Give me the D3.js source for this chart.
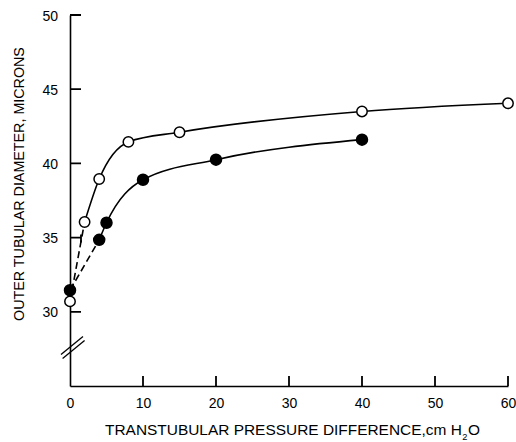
<!DOCTYPE html>
<html>
<head>
<meta charset="utf-8">
<script src="https://cdn.jsdelivr.net/npm/d3@7"></script>
<style>
  body { margin: 0; background: #fff; }
  svg { font-family: "Liberation Sans", Arial, sans-serif; }
  .tick text { font-size: 14px; fill: #000; }
</style>
</head>
<body>
<svg id="main-svg" width="516" height="442"></svg>
<script>
// data
var openX = [0, 2, 4, 8, 15, 40, 60];
var openY = [30.7, 36.05, 38.95, 41.45, 42.1, 43.5, 44.05];
var filledX = [0, 4, 5, 10, 20, 40];
var filledY = [31.45, 34.85, 36.0, 38.9, 40.25, 41.6];
var xTicks = [0, 10, 20, 30, 40, 50, 60];
var yTicks = [30, 35, 40, 45, 50];
// first segment of each curve is dashed
var dashedUpTo = 1;

var svg = d3.select('#main-svg');
var x = d3.scaleLinear().domain([0, 60]).range([70, 508]);
var y = d3.scaleLinear().domain([25, 50]).range([386, 15]);

// axes: labels from d3 axis, inward ticks drawn as one path
svg.append('g')
  .attr('transform', 'translate(0,' + y(25) + ')')
  .call(d3.axisBottom(x).tickValues(xTicks).tickSize(0).tickPadding(12))
  .call(g => g.select('.domain').attr('stroke', '#000').attr('stroke-width', 1.6))
  .call(g => g.selectAll('text').attr('font-family', null));

svg.append('g')
  .attr('transform', 'translate(' + x(0) + ',0)')
  .call(d3.axisLeft(y).tickValues(yTicks).tickSize(0).tickPadding(12))
  .call(g => g.select('.domain').attr('stroke', '#000').attr('stroke-width', 1.6))
  .call(g => g.selectAll('text').attr('font-family', null).attr('dy', '0.36em'));

var tickPath = d3.path();
xTicks.filter(d => d > 0).forEach(function(d) {
  tickPath.moveTo(x(d), y(25));
  tickPath.lineTo(x(d), y(25) - 10);
});
yTicks.forEach(function(d) {
  tickPath.moveTo(x(0), y(d));
  tickPath.lineTo(x(0) + 11, y(d));
});
// little bar at the end of the 35 tick
tickPath.moveTo(x(0) + 11, y(35) - 3);
tickPath.lineTo(x(0) + 11, y(35) + 5);
svg.append('path')
  .attr('d', tickPath.toString())
  .attr('fill', 'none').attr('stroke', '#000').attr('stroke-width', 1.8);

// axis break marks
[0, 4].forEach(function(o) {
  svg.append('line')
    .attr('x1', x(0) - 9 + o * 0.4).attr('y1', y(27.6) + 7 + o)
    .attr('x2', x(0) + 13 + o * 0.4).attr('y2', y(27.6) - 11 + o)
    .attr('stroke', '#000').attr('stroke-width', 1.3);
});

// curves
function drawSeries(xs, ys, filled) {
  var pts = xs.map((d, i) => [d, ys[i]]);
  var dashed = pts.slice(0, dashedUpTo + 1);
  var solid = pts.slice(dashedUpTo);
  var line = d3.line().x(d => x(d[0])).y(d => y(d[1]));
  svg.append('path')
    .attr('d', line(dashed))
    .attr('fill', 'none').attr('stroke', '#000').attr('stroke-width', 1.6)
    .attr('stroke-dasharray', '7,4');
  svg.append('path')
    .attr('d', line.curve(d3.curveMonotoneX)(solid))
    .attr('fill', 'none').attr('stroke', '#000').attr('stroke-width', 1.6);
  svg.append('g').selectAll('circle').data(pts).enter().append('circle')
    .attr('cx', d => x(d[0]))
    .attr('cy', d => y(d[1]))
    .attr('r', filled ? 5.5 : 5.2)
    .attr('fill', filled ? '#000' : '#fff')
    .attr('stroke', '#000').attr('stroke-width', 1.5);
}
drawSeries(openX, openY, false);
drawSeries(filledX, filledY, true);

// axis titles, font size fitted to the width seen in the picture
var titleFont = '"Liberation Sans Narrow", "Liberation Sans", sans-serif';
function fitText(sel, target) {
  var w = sel.node().getComputedTextLength();
  sel.attr('font-size', 15 * target / w);
  return sel.node().getComputedTextLength();
}

var yl = svg.append('text')
  .attr('transform', 'translate(24,184) rotate(-90)')
  .attr('text-anchor', 'middle')
  .attr('font-family', titleFont).attr('font-size', 15)
  .text('OUTER TUBULAR DIAMETER, MICRONS');
fitText(yl, 274);

var xl = svg.append('text')
  .attr('x', 105).attr('y', 435)
  .attr('font-family', titleFont).attr('font-size', 15)
  .text('TRANSTUBULAR PRESSURE DIFFERENCE,cm H');
var xw = fitText(xl, 357);
var xfs = +xl.attr('font-size');
var sub = svg.append('text')
  .attr('x', 105 + xw + 0.5).attr('y', 440)
  .attr('font-family', titleFont).attr('font-size', xfs * 0.6).text('2');
svg.append('text')
  .attr('x', 105 + xw + 1 + sub.node().getComputedTextLength()).attr('y', 435)
  .attr('font-family', titleFont).attr('font-size', xfs).text('O');
</script>
</body>
</html>
